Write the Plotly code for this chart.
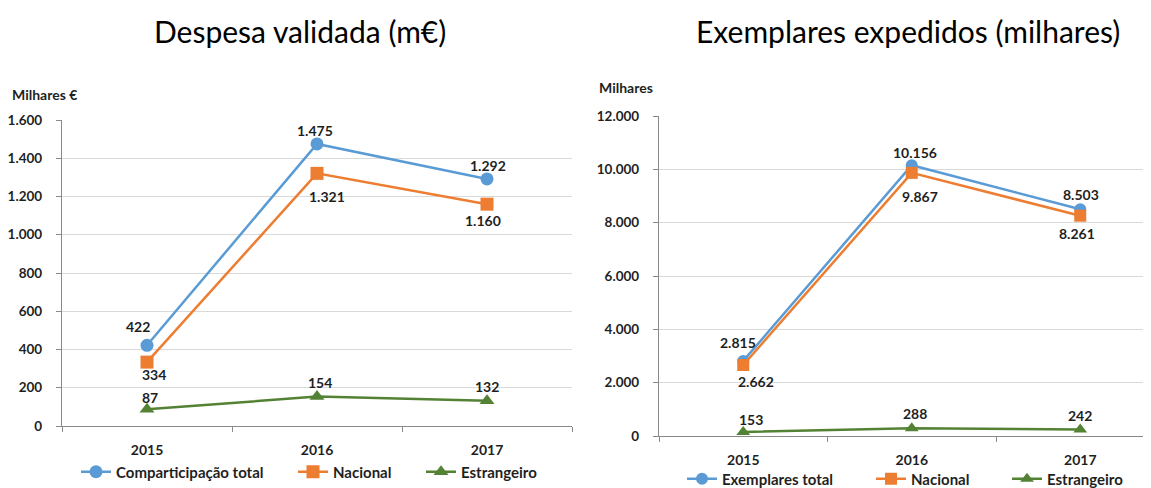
import plotly.graph_objects as go

# ---------------- data ----------------
years = ["2015", "2016", "2017"]

desp_names = ["Comparticipação total", "Nacional", "Estrangeiro"]
desp_total = [422, 1475, 1292]
desp_nacional = [334, 1321, 1160]
desp_estrangeiro = [87, 154, 132]

exemp_names = ["Exemplares total", "Nacional", "Estrangeiro"]
exemp_total = [2815, 10156, 8503]
exemp_nacional = [2662, 9867, 8261]
exemp_estrangeiro = [153, 288, 242]

left_title = "Despesa validada (m€)"
right_title = "Exemplares expedidos (milhares)"
left_unit = "Milhares €"
right_unit = "Milhares"

# ---------------- styles ----------------
W, H = 1151, 488
OFF = 8  # page body margin: figure is drawn at (8, 8) in the window
FONT = "Lato, 'Open Sans', sans-serif"
TXT = "#1f1f1f"
COLORS = ["#5B9BD5", "#ED7D31", "#548235"]
SYMBOLS = ["circle", "square", "triangle-up"]

# label offsets (dx, dy) in px, dy positive = downward
left_offsets = [
    [(-9, -19), (-2, -13), (1, -13)],
    [(7, 12), (10, 23), (-4, 16)],
    [(3, -12), (3, -14), (0, -14)],
]
right_offsets = [
    [(-5, -18), (3, -13), (1, -15)],
    [(13, 16), (8, 24), (-3, 18)],
    [(8, -12), (3, -15), (0, -14)],
]

def px_x(p):
    return (p - OFF) / W

def px_y(p):
    return (H - (p - OFF)) / H

def fmt(v):
    return f"{v:,}".replace(",", ".")

fig = go.Figure()

left_series = [desp_total, desp_nacional, desp_estrangeiro]
right_series = [exemp_total, exemp_nacional, exemp_estrangeiro]
left_msize = [13, 13, 13]
right_msize = [12, 12, 12]

# legend item line-start positions (window px) and y centres
left_leg_x = [82, 299, 427]
right_leg_x = [688, 877, 1013]
left_leg_y = 472
right_leg_y = 479

annotations = []
legend_layouts = {}
li = 0
for side, series, names, msz, offs, axx, axy, legx, legy in [
    ("L", left_series, desp_names, left_msize, left_offsets, "x", "y", left_leg_x, left_leg_y),
    ("R", right_series, exemp_names, right_msize, right_offsets, "x2", "y2", right_leg_x, right_leg_y),
]:
    for k, (vals, name) in enumerate(zip(series, names)):
        li += 1
        lname = "legend" if li == 1 else f"legend{li}"
        fig.add_trace(go.Scatter(
            x=years, y=vals, name=name, mode="lines+markers",
            xaxis=axx, yaxis=axy,
            line=dict(color=COLORS[k], width=2.5),
            marker=dict(symbol=SYMBOLS[k], size=msz[k], color=COLORS[k]),
            legend=lname, hoverinfo="skip",
        ))
        legend_layouts[lname] = dict(
            x=px_x(legx[k] - 6), y=px_y(legy), xanchor="left", yanchor="middle",
            bgcolor="rgba(0,0,0,0)", borderwidth=0,
            font=dict(family=FONT, size=15, color=TXT, weight="bold"),
            itemwidth=30,
        )
        for j, v in enumerate(vals):
            dx, dy = offs[k][j]
            annotations.append(dict(
                x=j, y=v, xref=axx, yref=axy, text=fmt(v), showarrow=False,
                xanchor="center", yanchor="middle", xshift=dx, yshift=-dy,
                font=dict(family=FONT, size=14, color=TXT, weight="bold"),
            ))

# titles and unit labels
annotations += [
    dict(x=px_x(300), y=px_y(31), xref="paper", yref="paper", text=left_title,
         showarrow=False, xanchor="center", yanchor="middle",
         font=dict(family=FONT, size=30, color="#000000")),
    dict(x=px_x(908), y=px_y(31), xref="paper", yref="paper", text=right_title,
         showarrow=False, xanchor="center", yanchor="middle",
         font=dict(family=FONT, size=30, color="#000000")),
    dict(x=px_x(10), y=px_y(94), xref="paper", yref="paper", text=left_unit,
         showarrow=False, xanchor="left", yanchor="middle",
         font=dict(family=FONT, size=14, color=TXT, weight="bold")),
    dict(x=px_x(597), y=px_y(87), xref="paper", yref="paper", text=right_unit,
         showarrow=False, xanchor="left", yanchor="middle",
         font=dict(family=FONT, size=14, color=TXT, weight="bold")),
]

axis_common = dict(
    showline=True, linecolor="#898989", linewidth=1.3,
    ticks="outside", ticklen=5, tickcolor="#898989", tickwidth=1,
    zeroline=False, fixedrange=True,
)
xfont = dict(family=FONT, size=14, color=TXT, weight="bold")
yfont = dict(family=FONT, size=13.5, color=TXT, weight="bold")

fig.update_layout(
    width=W, height=H,
    margin=dict(l=0, r=0, t=0, b=0, autoexpand=False),
    paper_bgcolor="white", plot_bgcolor="white",
    separators=",.",
    showlegend=True,
    annotations=annotations,
    xaxis=dict(domain=[px_x(62), px_x(572)], type="category", range=[-0.5, 2.5],
               tickson="boundaries", showgrid=False, anchor="y", ticklabelstandoff=11,
               tickfont=xfont, **axis_common),
    yaxis=dict(domain=[px_y(426), px_y(120)], range=[0, 1600], dtick=200, tickformat=",",
               showgrid=True, gridcolor="#D9D9D9", gridwidth=1, anchor="x",
               ticklabelstandoff=11, tickfont=yfont, **axis_common),
    xaxis2=dict(domain=[px_x(659), px_x(1151)], type="category",
                range=[-0.5, -0.5 + 492 / 168.5],
                tickson="boundaries", showgrid=False, anchor="y2", ticklabelstandoff=11,
                tickfont=xfont, **axis_common),
    yaxis2=dict(domain=[px_y(436), px_y(116)], range=[0, 12000], dtick=2000, tickformat=",",
                showgrid=True, gridcolor="#D9D9D9", gridwidth=1, anchor="x2",
                ticklabelstandoff=11, tickfont=yfont, **axis_common),
    **legend_layouts,
)

fig.write_html("out.html")
